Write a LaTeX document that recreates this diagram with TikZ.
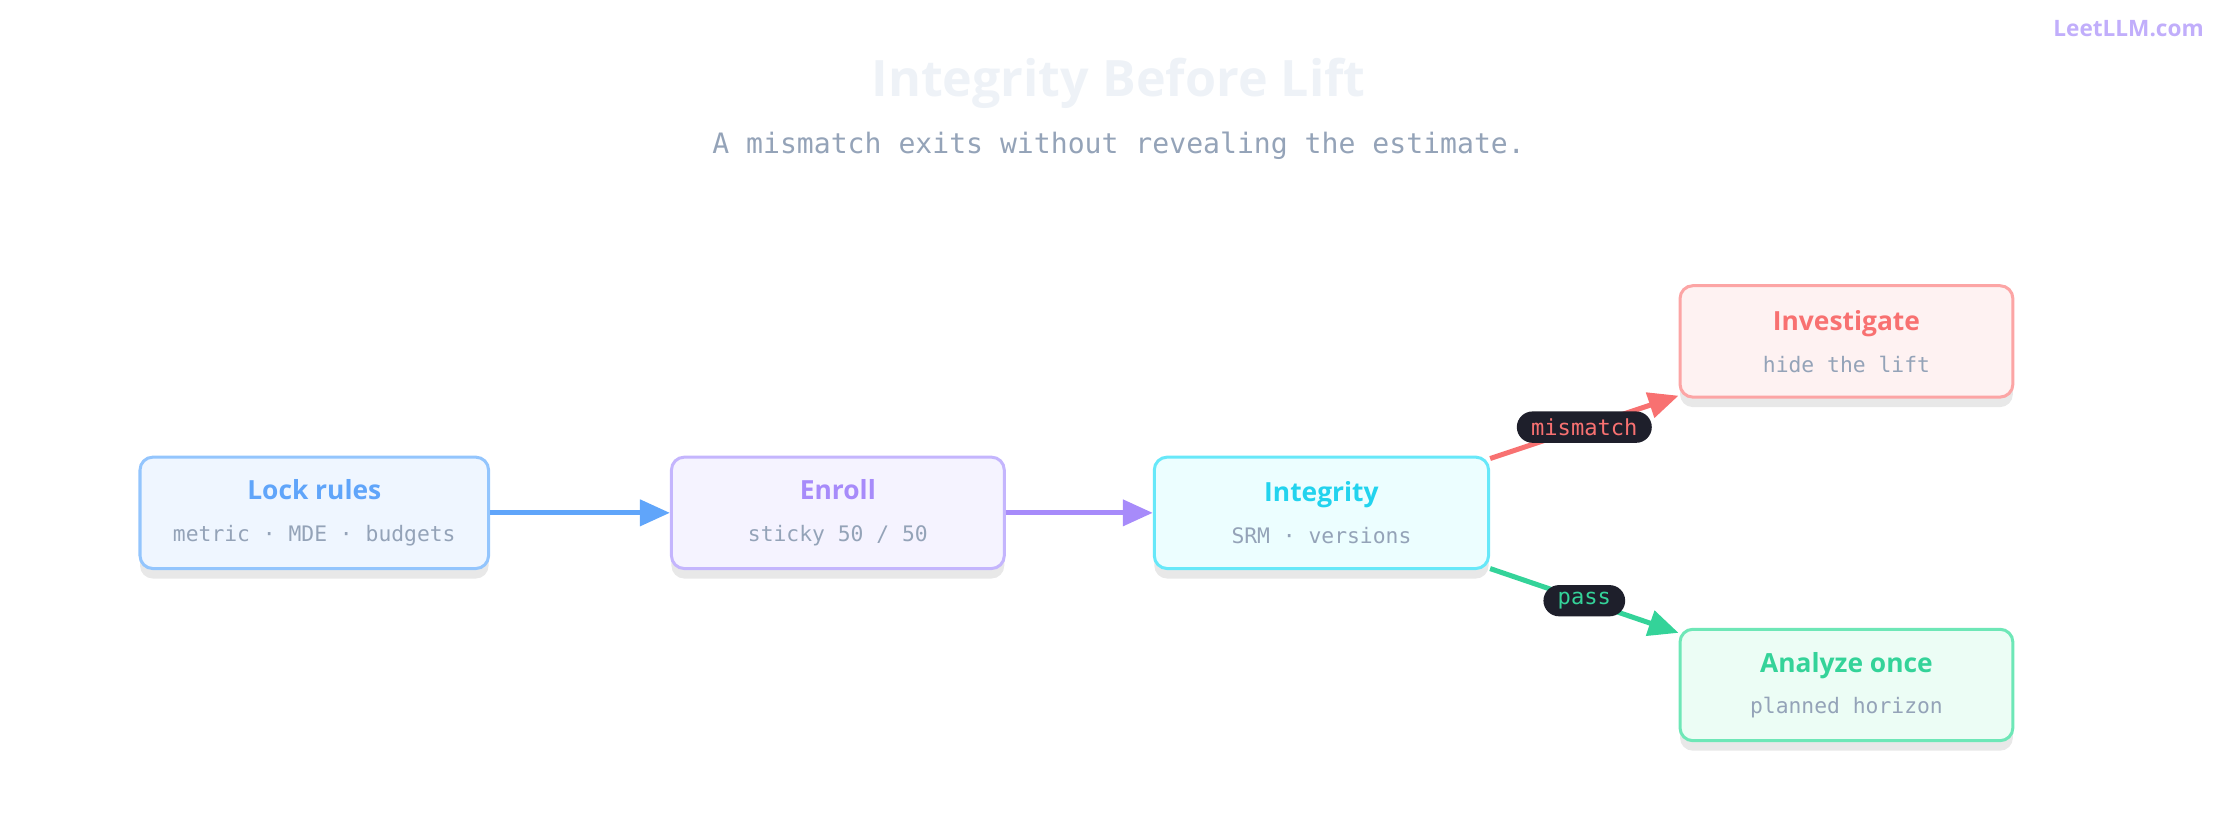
\documentclass[tikz,border=0pt]{standalone}
\usepackage{fontspec}
\setmainfont{Open Sans}
\newfontfamily\monofont{DejaVu Sans Mono}
\usetikzlibrary{shadows,arrows.meta}
\definecolor{blueT}{HTML}{60A5FA}\definecolor{blueB}{HTML}{93C5FD}\definecolor{blueF}{HTML}{EFF6FF}
\definecolor{purpT}{HTML}{A78BFA}\definecolor{purpB}{HTML}{C4B5FD}\definecolor{purpF}{HTML}{F5F3FF}
\definecolor{cyanT}{HTML}{22D3EE}\definecolor{cyanB}{HTML}{67E8F9}\definecolor{cyanF}{HTML}{ECFEFF}
\definecolor{redT}{HTML}{F87171}\definecolor{redB}{HTML}{FCA5A5}\definecolor{redF}{HTML}{FEF2F2}
\definecolor{grnT}{HTML}{34D399}\definecolor{grnB}{HTML}{6EE7B7}\definecolor{grnF}{HTML}{ECFDF5}
\definecolor{subgray}{HTML}{94A3B8}
\definecolor{titlegray}{HTML}{EEF2F7}
\definecolor{pill}{HTML}{1E1F2B}
\tikzset{
  box/.style={draw=#1B, fill=#1F, line width=1.2pt, rounded corners=0.18cm,
    minimum height=1.56cm, align=center,
    drop shadow={shadow xshift=0pt, shadow yshift=-0.14cm, opacity=0.09, fill=black}},
  flow/.style={line width=2pt, -{Triangle[length=0.42cm,width=0.36cm]}},
  tag/.style={fill=pill, text=#1, rounded corners=0.22cm, font=\monofont\fontsize{8.8}{10}\selectfont,
    inner xsep=0.2cm, inner ysep=0.1cm}
}
\newcommand{\boxtext}[3]{{\color{#1}\bfseries\fontsize{10.5}{12}\selectfont #2}\\[0.16cm]{\color{subgray}\monofont\fontsize{8.5}{10}\selectfont #3}}
\begin{document}
\begin{tikzpicture}
  \useasboundingbox (0,0) rectangle (31.36,11.76);
  \node (title) at (15.66,10.6) {\color{titlegray}\bfseries\fontsize{20}{22}\selectfont Integrity Before Lift};
  \node (subtitle) at (15.66,9.72) {\color{subgray}\monofont\fontsize{11.2}{14}\selectfont A mismatch exits without revealing the estimate.};
  \node (logo) at (29.8,11.36) {\color{purpT!70}\bfseries\fontsize{9}{10}\selectfont LeetLLM.com};

  \node[box=blue, minimum width=4.88cm] (lock) at (4.40,4.58) {\boxtext{blueT}{Lock rules}{metric · MDE · budgets}};
  \node[box=purp, minimum width=4.66cm] (enroll) at (11.73,4.58) {\boxtext{purpT}{Enroll}{sticky 50 / 50}};
  \node[box=cyan, minimum width=4.68cm] (integ) at (18.50,4.58) {\boxtext{cyanT}{Integrity}{SRM · versions}};
  \node[box=red, minimum width=4.66cm] (invest) at (25.85,6.98) {\boxtext{redT}{Investigate}{hide the lift}};
  \node[box=grn, minimum width=4.66cm] (analyze) at (25.85,2.17) {\boxtext{grnT}{Analyze once}{planned horizon}};

  \draw[flow, blueT] (lock) -- (enroll);
  \draw[flow, purpT] (enroll) -- (integ);
  \draw[flow, redT] (integ.east |- 0,5.34) -- (invest.west |- 0,6.22)
    node[tag=redT, pos=0.5] (mism) {mismatch};
  \draw[flow, grnT] (integ.east |- 0,3.8) -- (analyze.west |- 0,2.9)
    node[tag=grnT, pos=0.5] (pass) {pass};
\end{tikzpicture}
\end{document}
